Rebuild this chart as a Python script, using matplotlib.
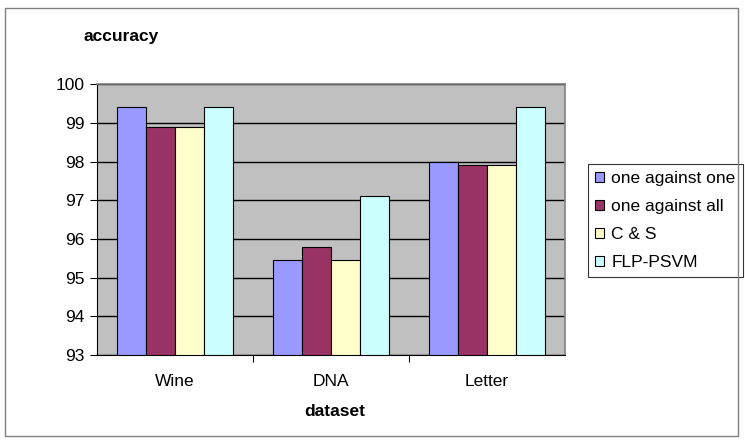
import matplotlib.pyplot as plt
import numpy as np
from matplotlib.patches import Rectangle

plt.rcParams['font.family'] = ['Liberation Sans', 'DejaVu Sans']

# dados do gráfico
datasets = ["Wine", "DNA", "Letter"]
metodos = ["one against one", "one against all", "C & S", "FLP-PSVM"]
one_vs_one = [99.4, 95.45, 98.0]
one_vs_all = [98.88, 95.78, 97.9]
c_and_s = [98.88, 95.45, 97.9]
flp_psvm = [99.4, 97.1, 99.4]

cores = ["#9999ff", "#993366", "#ffffcc", "#ccffff"]
series = [one_vs_one, one_vs_all, c_and_s, flp_psvm]

fs = 12.5

fig = plt.figure(figsize=(7.45, 4.43), dpi=100)
ax = fig.add_axes([0.130, 0.199, 0.628, 0.611])
ax.set_facecolor("#c0c0c0")

# moldura externa
fig.patches.append(Rectangle((5 / 745, 7 / 443), 733 / 745, 428 / 443,
                             transform=fig.transFigure, fill=False,
                             edgecolor="#808080", linewidth=1.0))

x = np.arange(len(datasets))
largura = 0.186
for i, (vals, cor, nome) in enumerate(zip(series, cores, metodos)):
    pos = x + (i - 1.5) * largura
    ax.bar(pos, np.array(vals) - 93, width=largura, bottom=93, color=cor,
           edgecolor="black", linewidth=0.8, label=nome, zorder=3)

ax.set_xlim(-0.5, 2.5)
ax.set_ylim(93, 100)
ax.set_yticks(range(93, 101))
ax.yaxis.grid(True, color="black", linewidth=1.0, zorder=1)
ax.set_xticks(x)
ax.set_xticklabels(datasets, fontsize=fs)
ax.tick_params(axis="x", length=0, pad=14)
ax.tick_params(axis="y", labelsize=fs, length=5, pad=4, direction="out", width=0.8)

# marcas entre categorias
ax.set_xticks([0.5, 1.5], minor=True)
ax.tick_params(axis="x", which="minor", length=5, direction="out", width=0.8)

for lado in ["top", "right"]:
    ax.spines[lado].set_color("#808080")
    ax.spines[lado].set_linewidth(1.2)
ax.spines["left"].set_linewidth(0.8)
ax.spines["bottom"].set_linewidth(0.8)

fig.text(121 / 745, 1 - 37 / 443, "accuracy", ha="center", va="center",
         fontsize=fs, fontweight="bold")
fig.text(335 / 745, 1 - 412 / 443, "dataset", ha="center", va="center",
         fontsize=fs, fontweight="bold")

leg = ax.legend(loc="upper left", bbox_to_anchor=(588 / 745, 1 - 164 / 443),
                bbox_transform=fig.transFigure, fontsize=fs, frameon=True,
                fancybox=False, edgecolor="black", handlelength=0.55,
                handleheight=0.55, handletextpad=0.4, borderpad=0.4,
                labelspacing=0.75, borderaxespad=0)
leg.get_frame().set_linewidth(0.8)

fig.savefig("out.png", dpi=100)
